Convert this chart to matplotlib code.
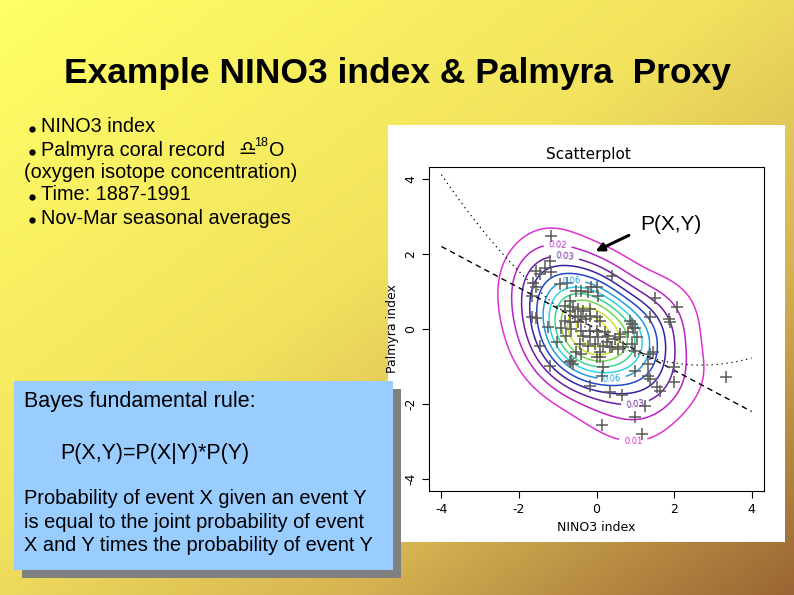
import numpy as np
import matplotlib
matplotlib.use("Agg")
import matplotlib.pyplot as plt
from matplotlib.colors import LinearSegmentedColormap
from matplotlib.patches import Rectangle

nino3 = [-1.17, -1.21, -1.56, -1.47, -1.34, -1.17, -1.64, -1.56, 0.39, -0.95,
         -0.76, -1.66, -1.66, -1.55, -1.25, -1.47, -1.21, -0.69, -1.01,
         -0.52, -0.39, -0.22, -0.13, 0.00, 0.04, -0.69, -0.82, -0.60, -0.48,
         -0.69, -0.35, -0.17, -0.56, -0.39, -0.26, -0.17, 0.00, 0.09, -0.82,
         -0.69, -0.48, -0.65, -0.91, -0.39, -0.17, 0.00, 0.22, -0.78, -0.35,
         -0.17, 0.04, 0.30, 0.48, 0.60, -0.43, -0.22, -0.04, 0.17, 0.39,
         0.56, 0.69, -0.52, -0.39, 0.09, 0.00, 0.86, 0.95, 0.82, 1.04, 0.91,
         -0.60, 0.17,
         1.51, 2.07, 1.86, 1.90, 1.38, 0.91, 0.99, 0.60, 0.26, 0.35,
         0.99, 1.38, 1.47, 1.34, 0.99, 1.99, 1.34, 1.38, 1.56, 1.64, 1.99,
         3.33, 0.13, 0.35, 0.65, 1.25, 0.99, 0.13, 1.17, -0.17, 0.09, -0.65]
palmyra = [2.48, 1.82, 1.55, 1.46, 1.64, 1.51, 1.24, 1.11, 1.42, 1.20,
           1.24, 0.89, 0.31, 0.29, 0.06, -0.44, -0.98, -0.89, -0.35,
           1.02, 1.02, 0.98, 1.11, 1.11, 0.89, 0.75, 0.62, 0.58, 0.53,
           0.49, 0.49, 0.53, 0.35, 0.31, 0.27, 0.35, 0.31, 0.22, 0.22,
           0.18, 0.18, 0.00, 0.04, -0.04, -0.04, -0.04, -0.09, -0.18, -0.18,
           -0.22, -0.22, -0.18, -0.27, -0.22, -0.40, -0.44, -0.40, -0.44, -0.49,
           -0.53, -0.49, -0.62, -0.67, -0.62, -0.75, 0.22, 0.04, -0.09, -0.22, -0.40,
           -0.93, -1.02,
           0.84, 0.58, 0.27, 0.18, 0.31, 0.13, 0.04, -0.13, -0.35, -0.49,
           -0.58, -0.67, -0.62, -0.93, -1.11, -1.02, -1.24, -1.33, -1.55, -1.64, -1.42,
           -1.29, -1.24, -1.69, -1.77, -2.04, -2.35, -2.57, -2.81, -1.51, -0.75, -0.84]

# fitted lines
lin_coef = [-0.55, 0.0]           # slope, intercept (dashed)
quad_coef = [0.113, -0.611, -0.136]  # quadratic fit (dotted)

ticks = [-4, -2, 0, 2, 4]
label_pos = [(0.95, -2.93), (-1.0, 2.26), (0.99, -1.91), (-0.82, 1.82),
             (0.39, -1.29), (-0.65, 1.35)]

W, H = 794, 595
fig = plt.figure(figsize=(7.94, 5.95), dpi=100)

# slide background
bg = fig.add_axes([0, 0, 1, 1])
gx, gy = np.meshgrid(np.linspace(0, 1, 200), np.linspace(0, 1, 200))
t = (gx + gy) / 2
bg_cmap = LinearSegmentedColormap.from_list(
    "slide", [(0, "#ffff66"), (0.45, "#f2e25e"), (0.72, "#d6b452"), (1, "#9a6634")])
bg.imshow(t, cmap=bg_cmap, extent=[0, W, H, 0], aspect="auto", interpolation="bilinear")
bg.set_xlim(0, W)
bg.set_ylim(H, 0)
bg.axis("off")

# white panel behind the plot
bg.add_patch(Rectangle((388, 125), 397, 417, facecolor="white", edgecolor="none"))

bg.text(397, 74, "Example NINO3 index & Palmyra  Proxy", ha="center", va="center",
        fontsize=25.5, fontweight="bold", family="Liberation Sans")

fs = 14.3
bullets = [(127, "NINO3 index", True), (150, "Palmyra coral record", True),
           (172, "(oxygen isotope concentration)", False),
           (195, "Time: 1887-1991", True), (218, "Nov-Mar seasonal averages", True)]
for yy, txt, dot in bullets:
    if dot:
        bg.plot(32, yy + 2, "o", color="black", markersize=3.5)
        bg.text(41, yy, txt, va="center", fontsize=fs, family="Liberation Sans")
    else:
        bg.text(24, yy, txt, va="center", fontsize=fs, family="Liberation Sans")
bg.text(238, 150, "\u264e", va="center", fontsize=fs, family="DejaVu Sans")
bg.text(254, 143, "18", va="center", fontsize=9, family="Liberation Sans")
bg.text(269, 151, "O", va="center", fontsize=fs, family="Liberation Sans")

# Bayes box with shadow
bg.add_patch(Rectangle((22, 389), 379, 189, facecolor="#808080", edgecolor="none"))
bg.add_patch(Rectangle((14, 381), 379, 189, facecolor="#99ccff", edgecolor="none"))
bg.text(24, 402, "Bayes fundamental rule:", va="center", fontsize=15.5, family="Liberation Sans")
bg.text(60, 453, "P(X,Y)=P(X|Y)*P(Y)", va="center", fontsize=15.5, family="Liberation Sans")
bg.text(24, 522, "Probability of event X given an event Y\nis equal to the joint probability of event\n"
        "X and Y times the probability of event Y", va="center", fontsize=14.4,
        family="Liberation Sans", linespacing=1.28)

# scatterplot
ax = fig.add_axes([429 / W, 1 - 491 / H, (764 - 429) / W, (491 - 167) / H])
x = np.array(nino3)
y = np.array(palmyra)

gxs = np.linspace(-4.3, 4.3, 150)
GX, GY = np.meshgrid(gxs, gxs)
hx, hy = 0.72, 0.75
dens = np.zeros_like(GX)
for xi, yi in zip(x, y):
    dens += np.exp(-0.5 * (((GX - xi) / hx) ** 2 + ((GY - yi) / hy) ** 2))
dens /= (len(x) * 2 * np.pi * hx * hy)

levels = np.round(np.arange(0.01, dens.max(), 0.01), 2)
cont_cmap = LinearSegmentedColormap.from_list(
    "dens", ["#e030d0", "#b020c0", "#401890", "#2030c0", "#20a0e0",
             "#30e0e0", "#40d060", "#c0e030", "#f0f030"])
cs = ax.contour(GX, GY, dens, levels=levels, cmap=cont_cmap, linewidths=1.1)
ax.clabel(cs, manual=label_pos, fontsize=6, inline=True, fmt="%.2f")

xs = np.linspace(-4, 4, 100)
ax.plot(xs, np.polyval(lin_coef, xs), color="black", linestyle=(0, (4, 3)), linewidth=1)
ax.plot(xs, np.polyval(quad_coef, xs), color="black", linestyle=(0, (1, 3)), linewidth=0.9)
ax.plot(x, y, "+", color="#5a5a5a", markersize=8.5, markeredgewidth=1.1)

ax.set_xlim(-4.32, 4.32)
ax.set_ylim(-4.32, 4.32)
ax.set_xticks(ticks)
ax.set_yticks(ticks)
ax.set_xticklabels([str(v) for v in ticks], fontsize=9)
ax.set_yticklabels([str(v) for v in ticks], fontsize=9, rotation=90, va="center")
ax.tick_params(direction="out", length=5, width=0.8)
ax.set_xlabel("NINO3 index", fontsize=9)
ax.set_ylabel("Palmyra index", fontsize=9)
ax.text(-0.2, 4.45, "Scatterplot", fontsize=11, ha="center", va="bottom")
for s in ax.spines.values():
    s.set_linewidth(0.8)

ax.annotate("", xy=(-0.09, 2.04), xytext=(0.90, 2.53),
            arrowprops=dict(arrowstyle="-|>", color="black", lw=2.2, mutation_scale=12))
ax.text(1.12, 2.80, "P(X,Y)", fontsize=15, va="center", family="Liberation Sans")

fig.savefig("out.png", dpi=100)
